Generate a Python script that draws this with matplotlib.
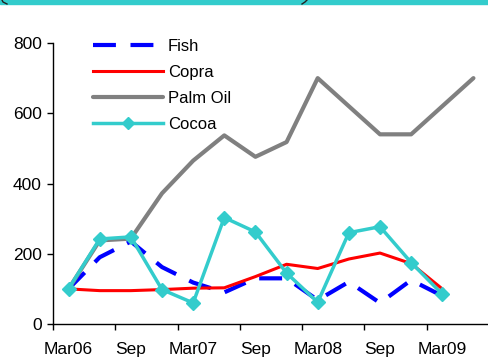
import matplotlib.pyplot as plt
from matplotlib.lines import Line2D
from matplotlib.patches import Rectangle

# quarterly prices, Mar06 .. Jun09
cuartos = ["Mar06", "Jun06", "Sep", "Dec06", "Mar07", "Jun07", "Sep", "Dec07",
           "Mar08", "Jun08", "Sep", "Dec08", "Mar09", "Jun09"]
pescado = [100, 190, 235, 162, 118, 90, 130, 130, 68, 120, 60, 125, 80]
copra = [100, 95, 95, 98, 102, 103, 135, 170, 158, 185, 202, 172, 100]
palma = [100, 238, 243, 372, 465, 537, 476, 518, 700, 620, 540, 540, 620, 700]
cacao = [100, 242, 248, 98, 60, 303, 262, 145, 62, 260, 277, 175, 85]

plt.rcParams['font.family'] = ['Liberation Sans', 'DejaVu Sans']

fig = plt.figure(figsize=(4.89, 3.62), dpi=100)
ax = fig.add_axes([53/489, 38/362, 1 - 53/489, (324 - 43)/362])

x = list(range(len(cuartos)))
ax.plot(x[:len(pescado)], pescado, color="#0000FF", lw=3, dashes=(5.5, 3.5), label="Fish", zorder=2)
ax.plot(x[:len(copra)], copra, color="#FF0000", lw=2.2, label="Copra", zorder=3)
ax.plot(x[:len(palma)], palma, color="#808080", lw=3, solid_capstyle="round", label="Palm Oil", zorder=4)
ax.plot(x[:len(cacao)], cacao, color="#33CCCC", lw=2.5, marker="D", ms=7, label="Cocoa", zorder=5)

ax.set_xlim(-0.5, len(cuartos) - 0.5)
ax.set_ylim(0, 800)
ax.set_yticks(range(0, 801, 200))
ax.set_xticks([i - 0.5 for i in range(0, len(cuartos), 2)])
ax.set_xticklabels([])
ax.set_xticks(x[::2], minor=True)
ax.set_xticklabels(cuartos[::2], minor=True)
ax.tick_params(axis="x", which="minor", length=0, pad=13, labelsize=12.5)
ax.tick_params(axis="x", which="major", direction="out", length=4, width=1)
ax.tick_params(axis="y", direction="out", length=4, width=1, labelsize=12.5, pad=4)
for s in ["top", "right"]:
    ax.spines[s].set_visible(False)
ax.spines["left"].set_linewidth(1)
ax.spines["bottom"].set_linewidth(1)

ax.legend(loc="upper left", bbox_to_anchor=(93/489, 1 - 39/362), bbox_transform=fig.transFigure,
          frameon=False, fontsize=12, handlelength=4.2, handletextpad=0.3, labelspacing=0.66,
          borderpad=0, borderaxespad=0, markerscale=0.85)

# trozo del recuadro del titulo arriba
fig.patches.append(Rectangle((0, 1 - 4/362), 1, 4/362, transform=fig.transFigure,
                             color="#33CCCC", zorder=0))
fig.lines.append(Line2D([2/489, 3/489, 7/489], [1, 1 - 2/362, 1 - 4/362], transform=fig.transFigure,
                        color="#222222", lw=1))
fig.lines.append(Line2D([302/489, 305/489, 307/489], [1 - 4/362, 1 - 2/362, 1], transform=fig.transFigure,
                        color="#222222", lw=1))

fig.savefig("out.png", dpi=100)
